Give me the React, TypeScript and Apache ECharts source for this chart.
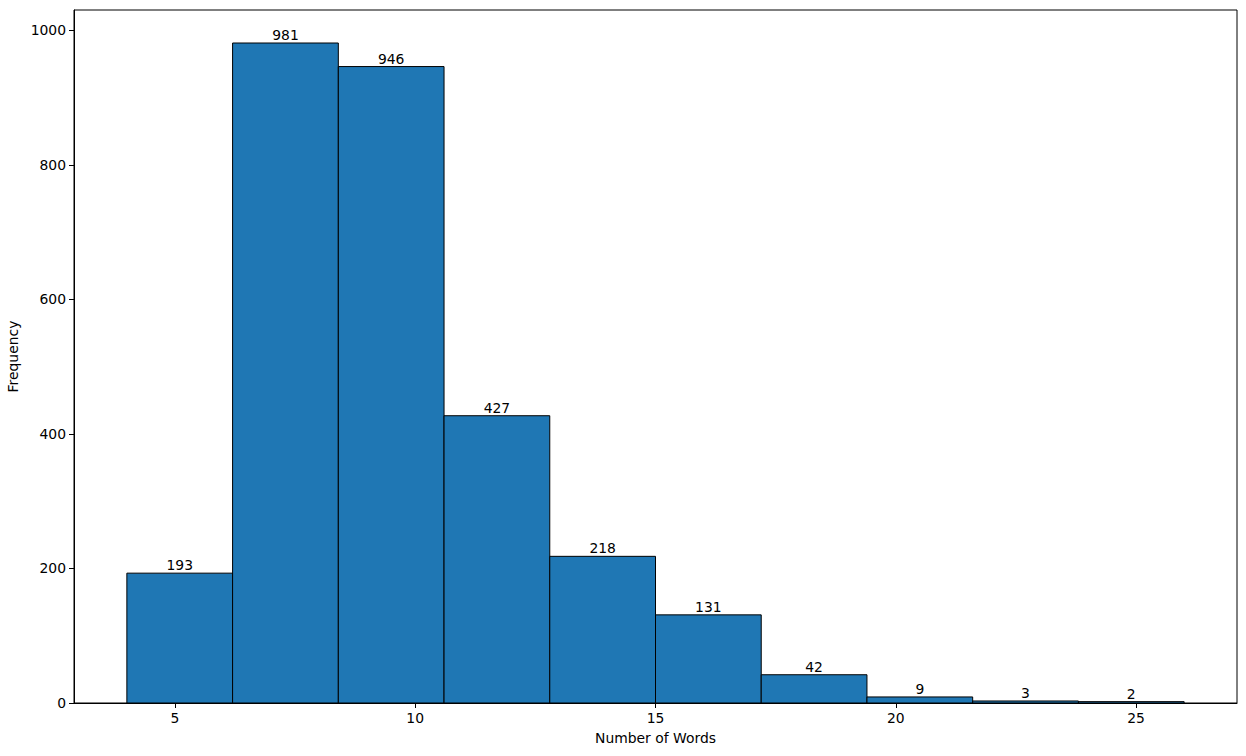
import React, { useEffect, useRef } from "react";
import * as echarts from "echarts";

const binEdges = [4, 6.2, 8.4, 10.6, 12.8, 15, 17.2, 19.4, 21.6, 23.8, 26];
const counts = [193, 981, 946, 427, 218, 131, 42, 9, 3, 2];
const xTicks = [5, 10, 15, 20, 25];
const yTicks = [0, 200, 400, 600, 800, 1000];

const FONT = "DejaVu Sans";

export default function App() {
  const ref = useRef<HTMLDivElement>(null);
  useEffect(() => {
    document.body.style.margin = "0";
    if (!ref.current) return;
    const chart = echarts.init(ref.current, null, { renderer: "svg" });
    const data = counts.map((c, i) => [binEdges[i], binEdges[i + 1], c]);
    const option: any = {
      animation: false,
      backgroundColor: "#ffffff",
      grid: {
        left: 74,
        right: 9,
        top: 10,
        bottom: 53,
        containLabel: false,
        outerBoundsMode: "none",
        show: true,
        borderColor: "#000",
        borderWidth: 1,
        backgroundColor: "transparent",
      },
      xAxis: {
        type: "value",
        min: 2.9,
        max: 27.1,
        name: "Number of Words",
        nameLocation: "middle",
        nameGap: 28,
        nameTextStyle: { fontFamily: FONT, fontSize: 13.9, color: "#000", verticalAlign: "top" },
        splitLine: { show: false },
        axisLine: { show: true, onZero: false, lineStyle: { color: "#000", width: 1 } },
        axisTick: { show: true, length: 5, lineStyle: { color: "#000" }, customValues: xTicks },
        axisLabel: {
          fontFamily: FONT,
          fontSize: 13.9,
          color: "#000",
          margin: 8,
          customValues: xTicks,
          formatter: (v: number) => String(v),
        },
      },
      yAxis: {
        type: "value",
        min: 0,
        max: 1030.05,
        name: "Frequency",
        nameLocation: "middle",
        nameGap: 52,
        nameRotate: 90,
        nameTextStyle: { fontFamily: FONT, fontSize: 13.9, color: "#000", verticalAlign: "middle" },
        splitLine: { show: false },
        axisLine: { show: true, lineStyle: { color: "#000", width: 1 } },
        axisTick: { show: true, length: 5, lineStyle: { color: "#000" }, customValues: yTicks },
        axisLabel: {
          fontFamily: FONT,
          fontSize: 13.9,
          color: "#000",
          margin: 8,
          customValues: yTicks,
          formatter: (v: number) => String(v),
        },
      },
      series: [
        {
          type: "custom",
          data,
          encode: { x: [0, 1], y: 2 },
          clip: false,
          renderItem: (params: any, api: any) => {
            const x0 = api.value(0);
            const x1 = api.value(1);
            const v = api.value(2);
            const p0 = api.coord([x0, v]);
            const p1 = api.coord([x1, 0]);
            return {
              type: "group",
              children: [
                {
                  type: "rect",
                  shape: { x: p0[0], y: p0[1], width: p1[0] - p0[0], height: p1[1] - p0[1] },
                  style: { fill: "#1f77b4", stroke: "#000", lineWidth: 1 },
                },
                {
                  type: "text",
                  x: (p0[0] + p1[0]) / 2,
                  y: p0[1] - 1,
                  style: {
                    text: String(v),
                    fontFamily: FONT,
                    fontSize: 13.9,
                    fill: "#000",
                    align: "center",
                    verticalAlign: "bottom",
                  },
                },
              ],
            };
          },
        },
      ],
    };
    chart.setOption(option);
    return () => chart.dispose();
  }, []);
  return <div ref={ref} style={{ width: 1246, height: 756 }} />;
}
